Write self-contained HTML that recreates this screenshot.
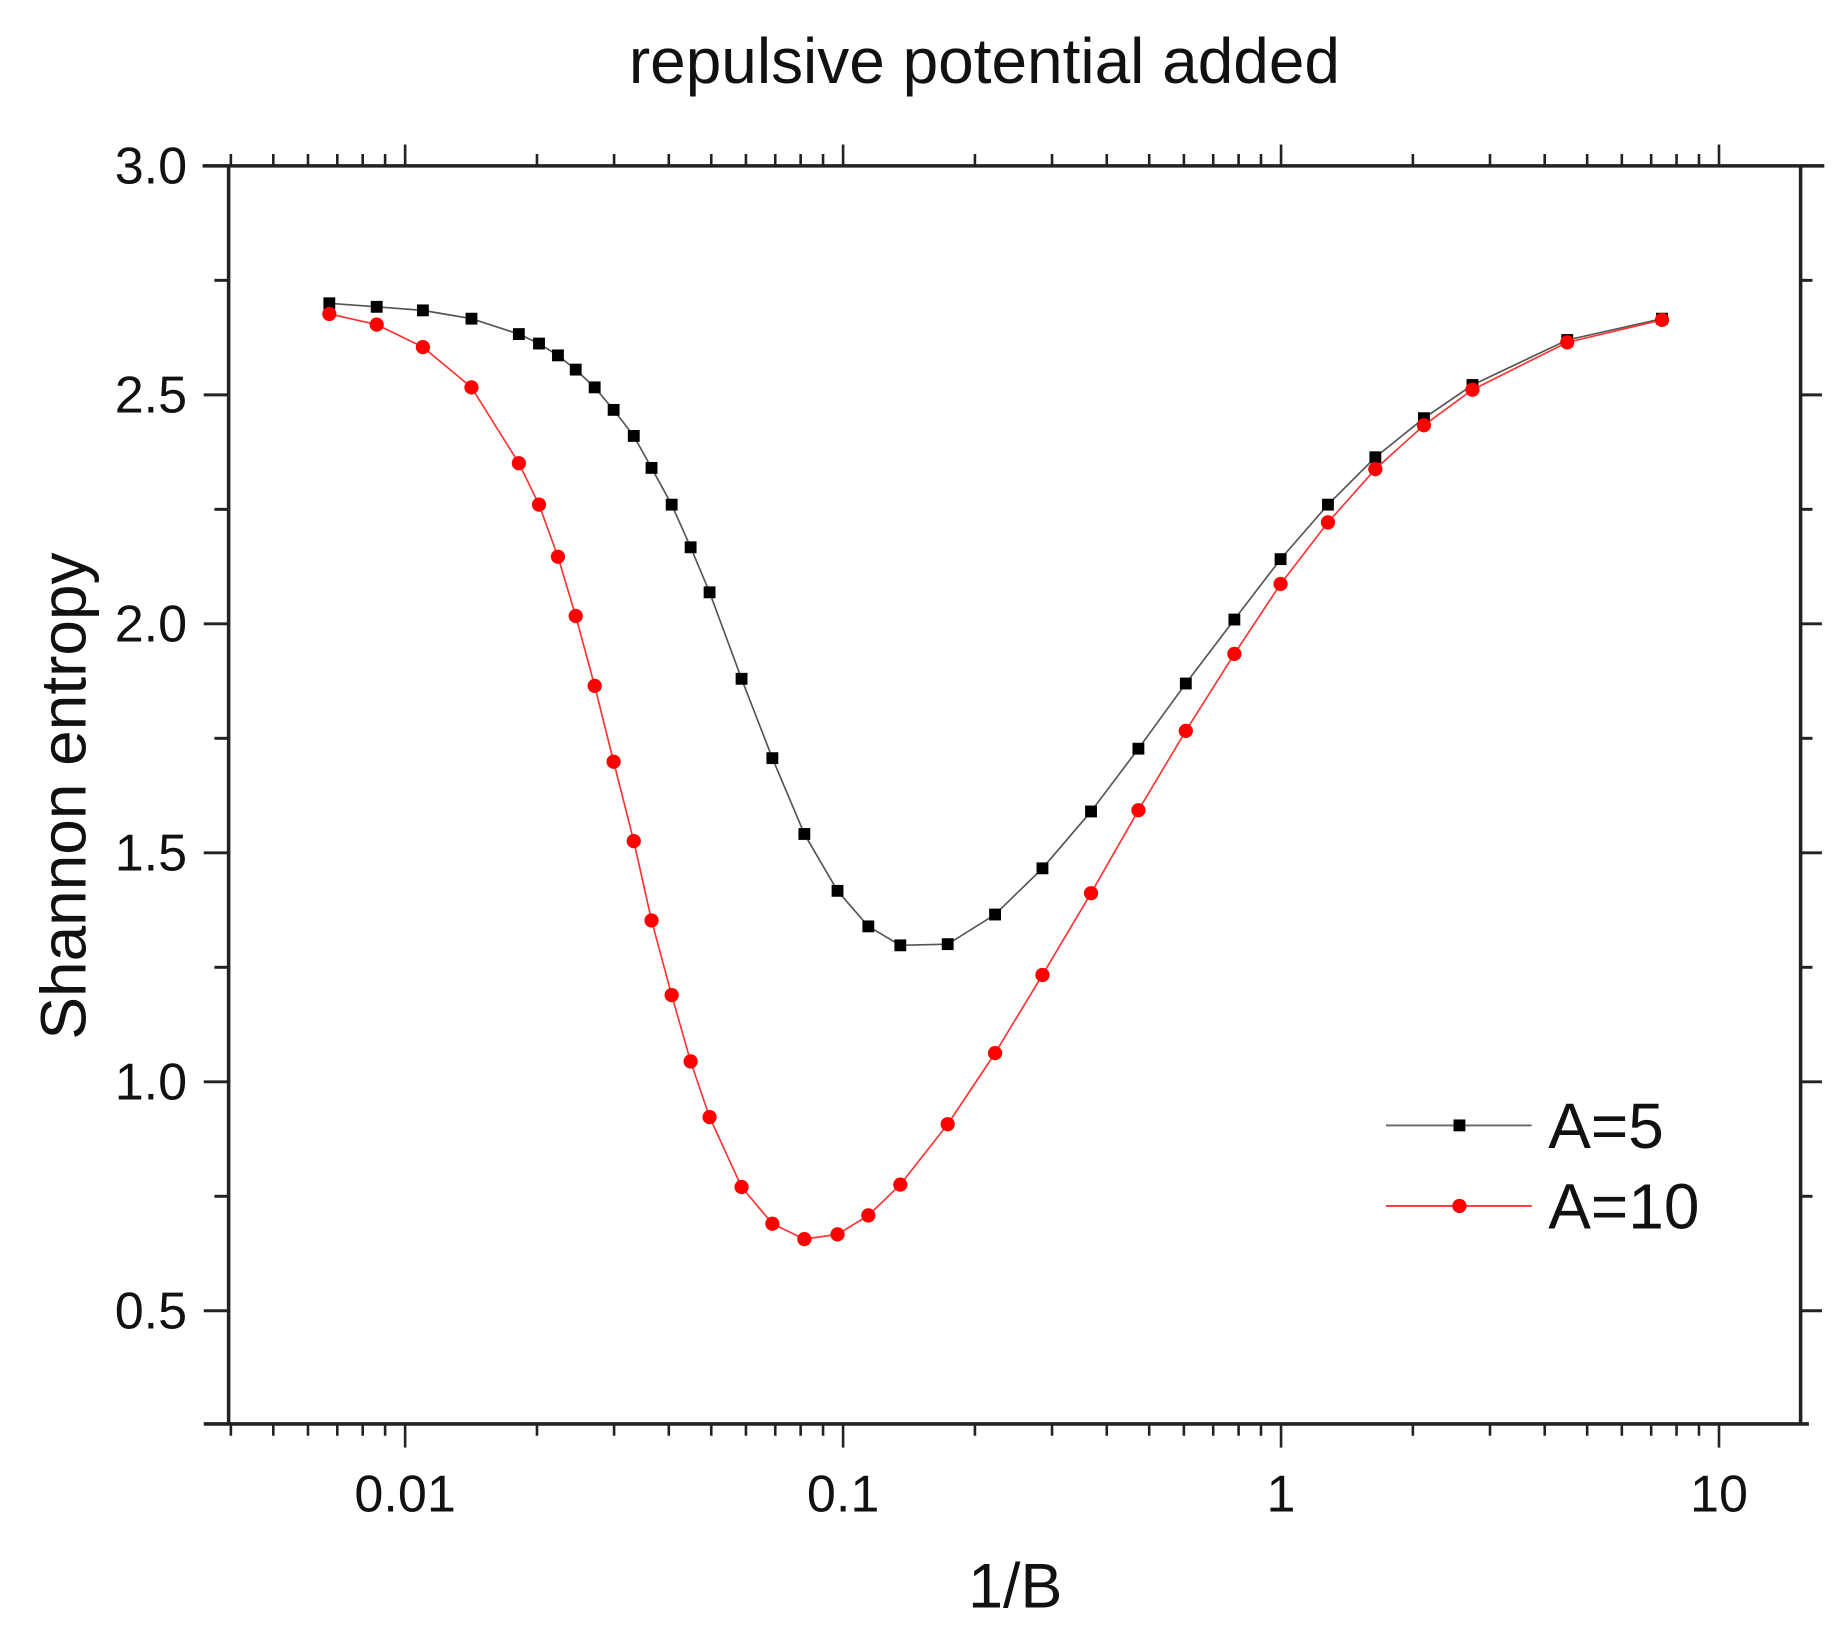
<!DOCTYPE html>
<html><head><meta charset="utf-8"><style>
html,body{margin:0;padding:0;background:#fff;}
svg{display:block;}
text{font-family:"Liberation Sans",Arial,sans-serif;fill:#111;}
</style></head><body>
<svg id="s" width="1848" height="1633" viewBox="0 0 1560 1378.5" xmlns="http://www.w3.org/2000/svg">
<rect x="0" y="0" width="1560" height="1378.5" fill="#fff"/>
<text x="831" y="70" font-size="54" text-anchor="middle">repulsive potential added</text>
<text x="857" y="1357" font-size="53" text-anchor="middle">1/B</text>
<text transform="translate(72,672) rotate(-90)" font-size="54" text-anchor="middle">Shannon entropy</text>
<g id="ax" stroke="#222" stroke-width="3" fill="none"></g>
<g id="lbl" font-size="44"></g>
<g id="data"></g>
<g>
<line x1="1170" y1="950" x2="1293" y2="950" stroke="#666" stroke-width="1.6"/>
<rect x="1227" y="945" width="10" height="10" fill="#000"/>
<text x="1307" y="969" font-size="54">A=5</text>
<line x1="1170" y1="1018" x2="1293" y2="1018" stroke="#f33" stroke-width="1.6"/>
<circle cx="1232" cy="1018" r="6" fill="#f00"/>
<text x="1307" y="1037" font-size="54">A=10</text>
</g>
</svg>
<script>
var ns="http://www.w3.org/2000/svg";
function el(p,t,a){var e=document.createElementNS(ns,t);for(var k in a)e.setAttribute(k,a[k]);p.appendChild(e);return e;}
var ax=document.getElementById('ax'),lbl=document.getElementById('lbl'),dg=document.getElementById('data');
var L=193,R=1520,T=140,B=1202;
el(ax,'line',{x1:171,y1:T,x2:1540,y2:T});
el(ax,'line',{x1:172,y1:B,x2:1527,y2:B});
el(ax,'line',{x1:L,y1:T,x2:L,y2:B});
el(ax,'line',{x1:R,y1:T,x2:R,y2:B});
function X(v){return 342+369.7*(Math.log10(v)+2);}
function Y(v){return 140+(3-v)*386.6;}
for(var i=0;i<=11;i++){var v=3-i*0.25;var y=Y(v);if(y>B+1)break;var maj=(i%2==0);
 el(ax,'line',{x1:L-(maj?21:12),y1:y,x2:L,y2:y,'stroke-width':2.5});
 el(ax,'line',{x1:R,y1:y,x2:R+(maj?18:10),y2:y,'stroke-width':2.5});
 if(maj&&v>=0.5){var t=el(lbl,'text',{x:158,y:y+15,'text-anchor':'end'});t.textContent=v.toFixed(1);}
}
var decs=[0.001,0.01,0.1,1,10];
decs.forEach(function(d){for(var m=1;m<=9;m++){var v=d*m;var x=X(v);if(x<L-1||x>R+20)continue;var maj=(m==1);
 el(ax,'line',{x1:x,y1:T,x2:x,y2:T-(maj?18:10),'stroke-width':2.2});
 el(ax,'line',{x1:x,y1:B,x2:x,y2:B+(maj?20:10),'stroke-width':2.2});
 if(maj){var t=el(lbl,'text',{x:x,y:1276,'text-anchor':'middle'});t.textContent=(v<1?String(v):String(Math.round(v)));}
}});
var blk=[[278,256],[318,259],[357,262],[398,269],[438,282],[455,290],[471,300],[486,312],[502,327],[518,346],[535,368],[550,395],[567,426],[583,462],[599,500],[626,573],[652,640],[679,704],[707,752],[733,782],[760,798],[800,797],[840,772],[880,733],[921,685],[961,632],[1001,577],[1042,523],[1081,472],[1121,426],[1161,386],[1202,353],[1243,325],[1323,287],[1403,269]];
var red=[[278,265],[318,274],[357,293],[398,327],[438,391],[455,426],[471,470],[486,520],[502,579],[518,643],[535,710],[550,777],[567,840],[583,896],[599,943],[626,1002],[652,1033],[679,1046],[707,1042],[733,1026],[760,1000],[800,949],[840,889],[880,823],[921,754],[961,684],[1001,617],[1042,552],[1081,493],[1121,441],[1161,396],[1202,359],[1243,329],[1323,289],[1403,270]];
el(dg,'polyline',{points:blk.map(function(p){return p.join(',')}).join(' '),fill:'none',stroke:'#555','stroke-width':1.4});
el(dg,'polyline',{points:red.map(function(p){return p.join(',')}).join(' '),fill:'none',stroke:'#f33','stroke-width':1.4});
blk.forEach(function(p){el(dg,'rect',{x:p[0]-5,y:p[1]-5,width:10,height:10,fill:'#000'});});
red.forEach(function(p){el(dg,'circle',{cx:p[0],cy:p[1],r:6,fill:'#f00'});});
</script>
</body></html>
